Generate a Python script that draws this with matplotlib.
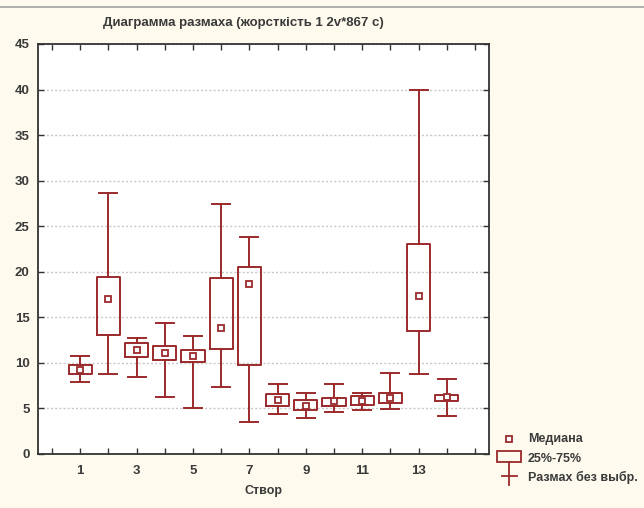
import matplotlib
matplotlib.use("Agg")
import matplotlib.pyplot as plt
from matplotlib.patches import Rectangle
from matplotlib.lines import Line2D

# Stations (створи) and their distribution summaries
stations = list(range(1, 15))
whisker_low = [7.9, 8.75, 8.4, 6.3, 5.1, 7.35, 3.5, 4.4, 3.9, 4.65, 4.8, 4.9, 8.75, 4.2]
quart_25 = [8.75, 13.05, 10.6, 10.3, 10.1, 11.5, 9.75, 5.3, 4.8, 5.3, 5.4, 5.65, 13.5, 5.8]
medians = [9.2, 17.0, 11.4, 11.1, 10.8, 13.8, 18.7, 5.9, 5.3, 5.8, 5.85, 6.1, 17.3, 6.3]
quart_75 = [9.8, 19.45, 12.15, 11.85, 11.4, 19.35, 20.55, 6.6, 5.95, 6.2, 6.35, 6.75, 23.1, 6.5]
whisker_high = [10.8, 28.6, 12.7, 14.4, 12.95, 27.45, 23.8, 7.7, 6.75, 7.7, 6.75, 8.85, 39.9, 8.25]

x_ticks = list(range(0, 16))
x_labels = [str(t) if t % 2 == 1 and t <= 13 else "" for t in x_ticks]
y_ticks = list(range(0, 50, 5))

title = "Диаграмма размаха (жорсткість 1 2v*867 с)"
x_title = "Створ"
legend_labels = ["Медиана", "25%-75%", "Размах без выбр."]

RED = "#9b2a2c"
TXT = "#3a3a3a"
BG = "#fefbee"
FONT = "Liberation Sans"

fig = plt.figure(figsize=(6.44, 5.08), dpi=100, facecolor=BG)
ax = fig.add_axes([38 / 644, 54 / 508, 451 / 644, 410 / 508])
ax.set_facecolor("white")

stats = []
for i in range(len(stations)):
    stats.append(dict(whislo=whisker_low[i], q1=quart_25[i], med=medians[i],
                      q3=quart_75[i], whishi=whisker_high[i], fliers=[]))

ax.bxp(stats, positions=stations, widths=0.82, showfliers=False,
       boxprops=dict(color=RED, linewidth=1.4),
       whiskerprops=dict(color=RED, linewidth=1.4),
       capprops=dict(color=RED, linewidth=1.4),
       medianprops=dict(linestyle="none"),
       capwidths=0.64, manage_ticks=False, zorder=3)
ax.plot(stations, medians, linestyle="none", marker="s", markersize=5,
        markerfacecolor="white", markeredgecolor=RED, markeredgewidth=1.3, zorder=4)

ax.set_xlim(-0.5, 15.5)
ax.set_ylim(0, 45)
ax.set_xticks(x_ticks)
ax.set_xticklabels(x_labels)
ax.set_yticks(y_ticks)
ax.tick_params(direction="in", length=4, width=1, color="#333333",
               top=True, right=True, labelcolor=TXT, labelsize=9.5)
for lab in ax.get_xticklabels() + ax.get_yticklabels():
    lab.set_fontfamily(FONT)
    lab.set_fontweight("bold")
ax.tick_params(axis="x", pad=8)
ax.tick_params(axis="y", pad=6)
for sp in ax.spines.values():
    sp.set_color("#333333")
    sp.set_linewidth(1.3)
ax.yaxis.grid(True, linestyle=(0, (1.5, 1.5)), color="#c8c8c8", linewidth=1.0)
ax.set_axisbelow(True)

ax.set_xlabel(x_title, fontsize=9, fontfamily=FONT, fontweight="bold",
              color=TXT, labelpad=6)
fig.text(243 / 644, 1 - 23 / 508, title, ha="center", va="center",
         fontsize=9.5, fontfamily=FONT, fontweight="bold", color=TXT)

# top separator line
fig.add_artist(Line2D([0, 1], [1 - 7 / 508, 1 - 7 / 508], color="#a0a0a0",
                      linewidth=1.2, transform=fig.transFigure))

# legend drawn in pixel-based overlay
lg = fig.add_axes([0, 0, 1, 1], facecolor="none")
lg.set_xlim(0, 644)
lg.set_ylim(508, 0)
lg.axis("off")
lg.plot([509], [439], marker="s", markersize=4.5, markerfacecolor="white",
        markeredgecolor=RED, markeredgewidth=1.3, linestyle="none")
lg.add_patch(Rectangle((497.5, 451), 24, 11, fill=False, edgecolor=RED, linewidth=1.3))
lg.plot([509.5, 509.5], [462, 485], color=RED, linewidth=1.3)
lg.plot([502, 517], [476, 476], color=RED, linewidth=1.3)
for y, lab in zip([439, 459, 477], legend_labels):
    lg.text(528, y, lab, ha="left", va="center", fontsize=9, fontfamily=FONT,
            fontweight="bold", color=TXT)

fig.savefig("out.png", dpi=100, facecolor=BG)
